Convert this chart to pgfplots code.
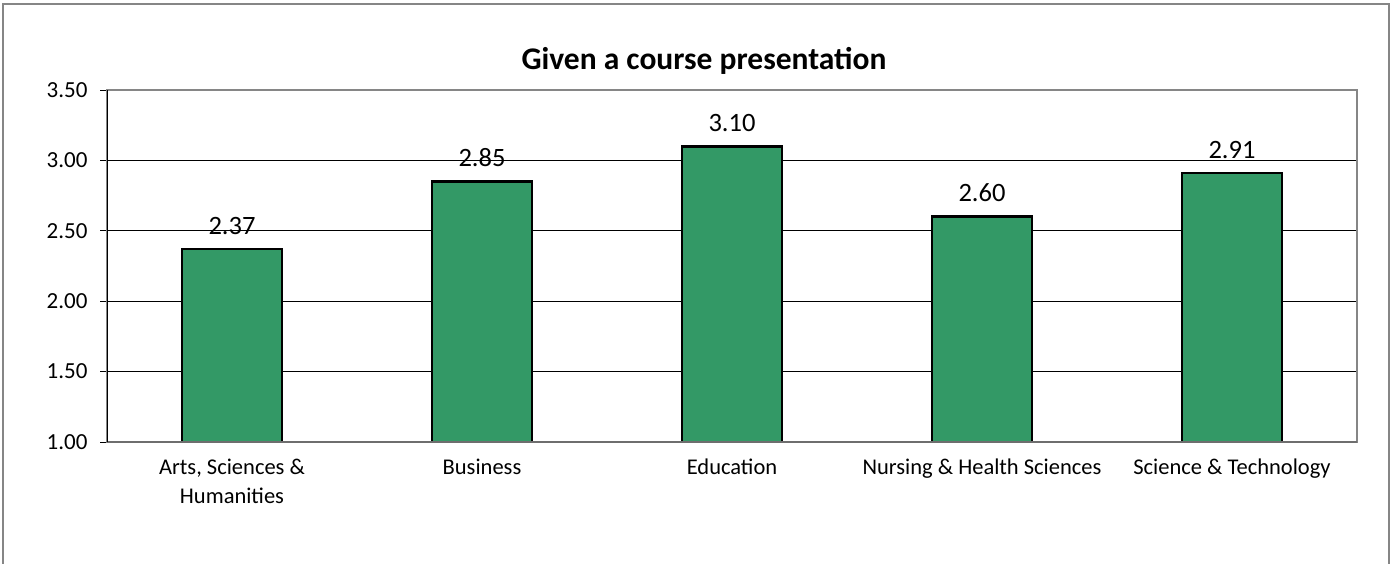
\documentclass[border=0pt]{standalone}
\usepackage{pgfplots}
\pgfplotsset{compat=1.18}
\usepackage{fontspec}
\setmainfont{Carlito}
\definecolor{barg}{RGB}{51,153,102}
\definecolor{frameg}{RGB}{134,134,134}
\definecolor{axisg}{RGB}{110,110,110}
\begin{document}
\begin{tikzpicture}
\useasboundingbox (0,0) rectangle (1396pt,563pt);
\draw[frameg, line width=2pt] (3pt,-5pt) -- (3pt,559pt) -- (1389pt,559pt) -- (1389pt,-5pt);
\node[anchor=base, font=\bfseries\fontsize{31.5}{37}\selectfont] at (704pt,493pt) {Given a course presentation};
\begin{axis}[
  at={(107pt,121pt)}, anchor=south west,
  scale only axis, width=1250pt, height=352pt,
  xmin=-0.5, xmax=4.5, ymin=1, ymax=3.5,
  ytick={1,1.5,2,2.5,3,3.5},
  ymajorgrids, grid style={black, line width=1pt},
  axis line style={frameg, line width=2pt},
  xtick={0,1,2,3,4},
  xticklabels={{Arts, Sciences \&\\Humanities},Business,Education,{Nursing \& Health Sciences},{Science \& Technology}},
  minor xtick={-0.5,0.5,1.5,2.5,3.5,4.5},
  tick align=outside,
  major tick length=7pt, minor tick length=7pt,
  x tick style={draw=none},
  minor x tick style={axisg, line width=1pt},
  y tick style={black, line width=1pt},
  xtick pos=bottom, ytick pos=left,
  /pgf/number format/assume math mode=true,
  yticklabel style={font=\fontsize{23}{27}\selectfont, /pgf/number format/fixed, /pgf/number format/fixed zerofill, /pgf/number format/precision=2, xshift=-9pt},
  xticklabel style={font=\fontsize{22.5}{29}\selectfont, align=center, yshift=-6pt},
  ybar, bar width=100pt,
  nodes near coords={\pgfmathprintnumber[fixed,fixed zerofill,precision=2,assume math mode=true]{\pgfplotspointmeta}},
  nodes near coords style={font=\fontsize{26.5}{31}\selectfont, yshift=10pt},
]
\addplot[fill=barg, draw=black, line width=2.5pt] coordinates {(0,2.37) (1,2.85) (2,3.10) (3,2.60) (4,2.91)};
\draw[axisg, line width=2pt] (rel axis cs:0,0) -- (rel axis cs:1,0);
\draw[black, line width=1.5pt] (rel axis cs:0,0) -- (rel axis cs:0,1);
\end{axis}
\end{tikzpicture}
\end{document}
